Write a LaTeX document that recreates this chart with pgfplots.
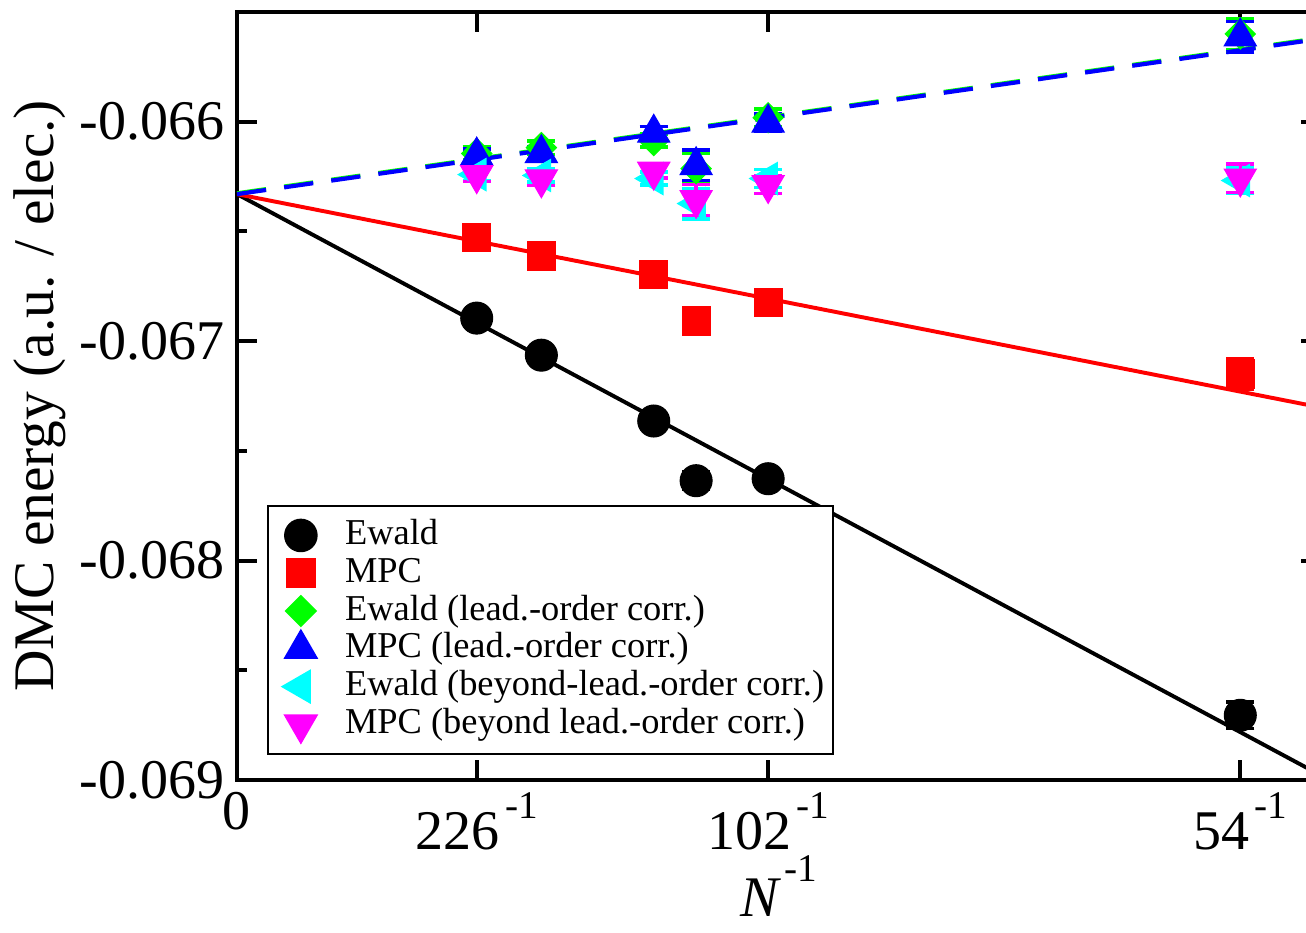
\documentclass[border=0pt]{standalone}
\usepackage{fontspec}
\setmainfont{Liberation Serif}
\usepackage{pgfplots}
\pgfplotsset{compat=1.18}
\definecolor{mgreen}{RGB}{0,255,0}
\definecolor{mcyan}{RGB}{0,255,255}
\definecolor{mmag}{RGB}{255,0,255}
\definecolor{mblue}{RGB}{0,0,255}
\definecolor{mred}{RGB}{255,0,0}
\newcommand{\invsup}{\kern2pt\raisebox{11pt}{\fontsize{14}{14}\selectfont -1}}
\begin{document}
\begin{tikzpicture}
\begin{axis}[
  scale only axis,
  width=387pt, height=274.3pt,
  xmin=0, xmax=0.02,
  ymin=-0.069, ymax=-0.0655,
  axis line style={line width=1.6pt},
  tick align=inside,
  major tick length=7pt,
  minor tick length=3.5pt,
  every tick/.style={black, line width=1.4pt},
  xtick={0,0.0044248,0.0098039,0.0185185},
  xticklabels={0, 226\invsup, 102\invsup, 54\invsup},
  ytick={-0.069,-0.068,-0.067,-0.066},
  yticklabels={-0.069,-0.068,-0.067,-0.066},
  minor ytick={-0.0685,-0.0675,-0.0665,-0.0655},
  tick label style={font=\fontsize{20}{24}\selectfont},
  xticklabel style={yshift=-1pt},
  yticklabel style={xshift=-1pt},
  xlabel={\textit{N}\kern1pt\raisebox{12.5pt}{\fontsize{14}{14}\selectfont -1}},
  xlabel style={text depth=0pt, inner ysep=0pt, yshift=0pt},
  ylabel={DMC energy (a.u. / elec.)},
  ylabel shift=-1.8pt,
  xlabel shift=-1.5pt,
  label style={font=\fontsize{20.5}{24}\selectfont},
  scaled ticks=false,
  legend cell align=left,
  legend image code/.code={\path[draw=none,fill=none] (-10.6pt,-4pt) rectangle (13.8pt,4pt); \draw[#1] plot coordinates {(0pt,0pt)};},
  legend style={at={(rel axis cs:0.0277,0.358)}, anchor=north west, draw=black, line width=0.6pt,
    font=\fontsize{13}{15}\selectfont, inner xsep=1.2pt, inner ysep=3.8pt,
    nodes={inner xsep=2pt, inner ysep=0.6pt, text height=9.4pt, text depth=2.9pt}},
  error bars/y dir=both, error bars/y explicit,
  error bars/error bar style={line width=1.2pt},
  error bars/error mark options={rotate=90, mark size=5pt, line width=1.2pt},
]
% Ewald
\addplot[only marks, mark=*, mark size=5.7pt, black, mark options={fill=black}] coordinates {
(0.0044248,-0.066895) +- (0,0.00002)
(0.0056180,-0.067064) +- (0,0.00002)
(0.0076923,-0.067364) +- (0,0.00002)
(0.0084746,-0.067636) +- (0,0.00004)
(0.0098039,-0.067627) +- (0,0.00003)
(0.0185185,-0.068705) +- (0,0.00006)
};
\addlegendentry{Ewald}
% MPC
\addplot[only marks, mark=square*, mark size=5pt, mred, mark options={fill=mred}] coordinates {
(0.0044248,-0.066529) +- (0,0.00002)
(0.0056180,-0.066612) +- (0,0.00002)
(0.0076923,-0.066695) +- (0,0.00002)
(0.0084746,-0.066908) +- (0,0.00004)
(0.0098039,-0.066824) +- (0,0.00003)
(0.0185185,-0.067150) +- (0,0.00007)
};
\addlegendentry{MPC}
% Ewald lead
\addplot[only marks, mark=square*, mark size=3.8pt, mgreen, mark options={fill=mgreen, rotate=45}] coordinates {
(0.0044248,-0.066145) +- (0,0.00003)
(0.0056180,-0.066118) +- (0,0.00003)
(0.0076923,-0.066086) +- (0,0.00003)
(0.0084746,-0.066214) +- (0,0.00007)
(0.0098039,-0.065982) +- (0,0.00004)
(0.0185185,-0.065600) +- (0,0.00007)
};
\addlegendentry{Ewald (lead.-order corr.)}
% MPC lead
\addplot[only marks, mark=triangle*, mark size=6.6pt, mblue, mark options={fill=mblue}] coordinates {
(0.0044248,-0.066155) +- (0,0.00003)
(0.0056180,-0.066144) +- (0,0.00003)
(0.0076923,-0.066051) +- (0,0.00003)
(0.0084746,-0.066199) +- (0,0.00007)
(0.0098039,-0.066005) +- (0,0.00004)
(0.0185185,-0.065612) +- (0,0.00007)
};
\addlegendentry{MPC (lead.-order corr.)}
% Ewald beyond
\addplot[only marks, mark=triangle*, mark size=6.6pt, mcyan, mark options={fill=mcyan, rotate=90}] coordinates {
(0.0044248,-0.066241) +- (0,0.00003)
(0.0056180,-0.066245) +- (0,0.00003)
(0.0076923,-0.066259) +- (0,0.00003)
(0.0084746,-0.066373) +- (0,0.00007)
(0.0098039,-0.066259) +- (0,0.00004)
(0.0185185,-0.066268) +- (0,0.00006)
};
\addlegendentry{Ewald (beyond-lead.-order corr.)}
% MPC beyond
\addplot[only marks, mark=triangle*, mark size=6.6pt, mmag, mark options={fill=mmag, rotate=180}] coordinates {
(0.0044248,-0.066243) +- (0,0.00003)
(0.0056180,-0.066262) +- (0,0.00003)
(0.0076923,-0.066227) +- (0,0.00003)
(0.0084746,-0.066356) +- (0,0.00007)
(0.0098039,-0.066288) +- (0,0.00004)
(0.0185185,-0.066258) +- (0,0.000065)
};
\addlegendentry{MPC (beyond lead.-order corr.)}
% fit lines
\addplot[forget plot, black, line width=1.4pt, no marks] coordinates {(0,-0.06633) (0.02,-0.068978)};
\addplot[forget plot, mred, line width=1.4pt, no marks] coordinates {(0,-0.06633) (0.02,-0.067302)};
\addplot[forget plot, mgreen, line width=1.3pt, dash pattern=on 10.5pt off 6.5pt, no marks] coordinates {(0,-0.066325) (0.02,-0.065617)};
\addplot[forget plot, mblue, line width=1.5pt, dash pattern=on 10.5pt off 6.5pt, no marks] coordinates {(0,-0.06633) (0.02,-0.065622)};
\end{axis}
\pgfresetboundingbox
\useasboundingbox ([xshift=-84.64pt,yshift=-54.29pt]current axis.south west) rectangle ([xshift=381.8pt,yshift=4.29pt]current axis.north west);
\end{tikzpicture}
\end{document}
